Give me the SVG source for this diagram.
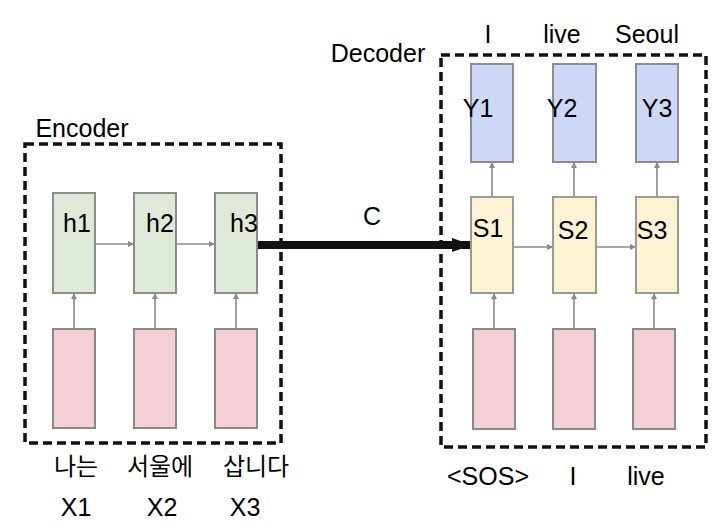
<svg xmlns="http://www.w3.org/2000/svg" width="716" height="527" viewBox="0 0 716 527">
<style>
.t{font-family:"Liberation Sans",Arial,sans-serif;font-size:25px;fill:#000;text-anchor:middle}
.k{font-family:"Liberation Sans","Noto Sans CJK KR",sans-serif;font-size:24px;fill:#000;text-anchor:middle}
.dash{fill:none;stroke:#111;stroke-width:3.5;stroke-dasharray:9,5}
.g{fill:#dee9d7;stroke:#8c8c8c;stroke-width:2}
.b{fill:#ccd8f6;stroke:#8c8c94;stroke-width:2}
.y{fill:#fdf2d4;stroke:#9a9a90;stroke-width:2}
.p{fill:#f4cfd6;stroke:#8c8888;stroke-width:2}
.c{stroke:#8a8a8a;stroke-width:1.6;fill:none;marker-end:url(#a)}
</style>
<defs>
<marker id="a" viewBox="0 0 10 10" refX="10" refY="5" markerWidth="6" markerHeight="6" markerUnits="userSpaceOnUse" orient="auto"><path d="M0,0L10,5L0,10z" fill="#8a8a8a"/></marker>
<marker id="big" viewBox="0 0 10 10" refX="10" refY="5" markerWidth="20" markerHeight="14" markerUnits="userSpaceOnUse" orient="auto" preserveAspectRatio="none"><path d="M0,0L10,5L0,10z" fill="#111"/></marker>
</defs>
<rect width="716" height="527" fill="#fff"/>
<g id="encoder">
<rect class="dash" x="25" y="144" width="256" height="299"/>
<text class="t" x="82" y="137">Encoder</text>
</g>
<g id="decoder">
<rect class="dash" x="441" y="55" width="265" height="392"/>
<text class="t" x="378" y="62">Decoder</text>
</g>
<g id="connectors">
<line class="c" x1="95" y1="244" x2="134" y2="244"/>
<line class="c" x1="176" y1="244" x2="215" y2="244"/>
<line class="c" x1="74" y1="329" x2="74" y2="293"/>
<line class="c" x1="155" y1="329" x2="155" y2="293"/>
<line class="c" x1="236" y1="329" x2="236" y2="293"/>
<line class="c" x1="513" y1="247" x2="553" y2="247"/>
<line class="c" x1="596" y1="247" x2="636" y2="247"/>
<line class="c" x1="494" y1="329" x2="494" y2="293"/>
<line class="c" x1="574" y1="329" x2="574" y2="293"/>
<line class="c" x1="654" y1="329" x2="654" y2="293"/>
<line class="c" x1="492" y1="197" x2="492" y2="162"/>
<line class="c" x1="574" y1="197" x2="574" y2="162"/>
<line class="c" x1="657" y1="197" x2="657" y2="162"/>
<line x1="257" y1="245" x2="472" y2="245" stroke="#111" stroke-width="8" marker-end="url(#big)"/>
<text class="t" x="372" y="225">C</text>
</g>
<g id="h1"><rect class="g" x="53" y="193" width="42" height="100"/><text class="t" x="77" y="232">h1</text></g>
<g id="h2"><rect class="g" x="134" y="193" width="42" height="100"/><text class="t" x="160" y="232">h2</text></g>
<g id="h3"><rect class="g" x="215" y="193" width="42" height="100"/><text class="t" x="244" y="232">h3</text></g>
<g id="x1"><rect class="p" x="53" y="329" width="42" height="99"/><text class="k" x="76" y="475">나는</text><text class="t" x="76" y="516">X1</text></g>
<g id="x2"><rect class="p" x="134" y="329" width="42" height="99"/><text class="k" x="160" y="475">서울에</text><text class="t" x="162" y="516">X2</text></g>
<g id="x3"><rect class="p" x="215" y="329" width="42" height="99"/><text class="k" x="256" y="475">삽니다</text><text class="t" x="245" y="516">X3</text></g>
<g id="y1"><rect class="b" x="471" y="64" width="42" height="98"/><text class="t" x="478" y="117">Y1</text><text class="t" x="488" y="43">I</text></g>
<g id="y2"><rect class="b" x="553" y="64" width="43" height="98"/><text class="t" x="562" y="117">Y2</text><text class="t" x="562" y="43">live</text></g>
<g id="y3"><rect class="b" x="636" y="64" width="42" height="98"/><text class="t" x="657" y="117">Y3</text><text class="t" x="647" y="43">Seoul</text></g>
<g id="s1"><rect class="y" x="471" y="197" width="42" height="96"/><text class="t" x="488" y="237">S1</text></g>
<g id="s2"><rect class="y" x="553" y="197" width="43" height="96"/><text class="t" x="573" y="239">S2</text></g>
<g id="s3"><rect class="y" x="636" y="197" width="42" height="96"/><text class="t" x="652" y="239">S3</text></g>
<g id="d1"><rect class="p" x="473" y="329" width="42" height="100"/><text class="t" x="488" y="485">&lt;SOS&gt;</text></g>
<g id="d2"><rect class="p" x="553" y="329" width="42" height="100"/><text class="t" x="573" y="485">I</text></g>
<g id="d3"><rect class="p" x="633" y="329" width="42" height="100"/><text class="t" x="646" y="485">live</text></g>
</svg>
